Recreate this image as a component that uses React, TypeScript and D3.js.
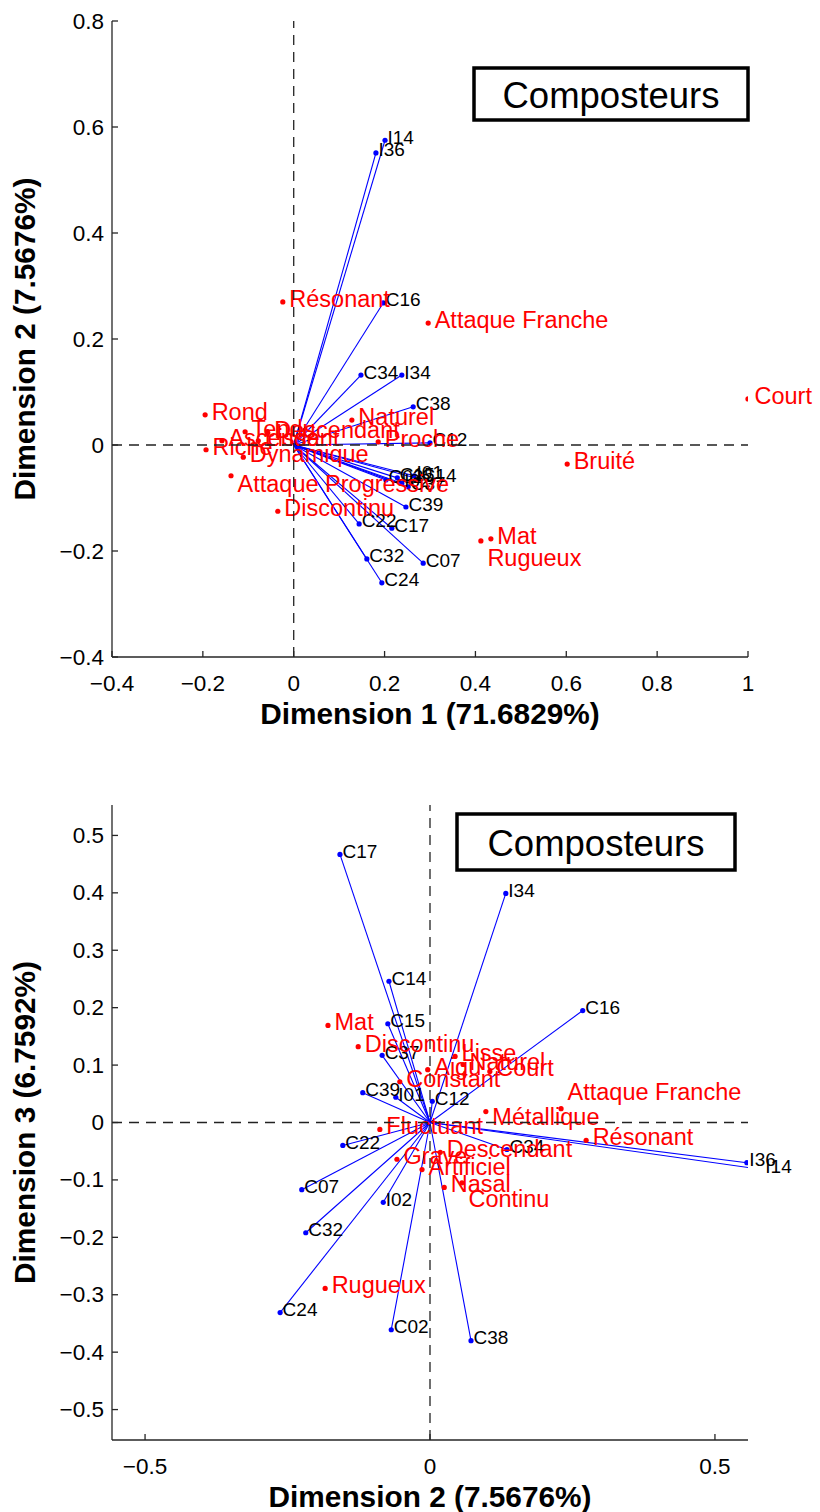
import React from "react";
import * as d3 from "d3";

// ---------- Plot 1: Dimension 1 vs Dimension 2 ----------
const p1BlueNames = ["I14","I36","C16","C34","I34","C38","C12","C02","C15","I01","C14","C37","I02","C39","C22","C17","C32","C07","C24"];
const p1BlueX = [0.201,0.181,0.197,0.148,0.238,0.263,0.300,0.203,0.228,0.265,0.276,0.252,0.238,0.247,0.144,0.216,0.161,0.285,0.194];
const p1BlueY = [0.575,0.551,0.268,0.132,0.132,0.072,0.004,-0.066,-0.062,-0.058,-0.064,-0.079,-0.072,-0.117,-0.149,-0.157,-0.215,-0.223,-0.260];

const p1RedNames = ["Résonant","Attaque Franche","Court","Naturel","Rond","Proche","Bruité","Riche","Dynamique","Attaque Progressive","Discontinu","Mat","Rugueux","Ascendant","Tendu","Descendant","Lisse"];
const p1RedX = [-0.024,0.296,1.000,0.128,-0.195,0.186,0.602,-0.193,-0.111,-0.138,-0.035,0.434,0.412,-0.158,-0.107,-0.057,-0.078];
const p1RedY = [0.270,0.230,0.087,0.047,0.057,0.006,-0.036,-0.009,-0.023,-0.058,-0.125,-0.177,-0.181,0.008,0.025,0.023,0.008];

const p1XTicks = [-0.4,-0.2,0,0.2,0.4,0.6,0.8,1];
const p1YTicks = [-0.4,-0.2,0,0.2,0.4,0.6,0.8];

// ---------- Plot 2: Dimension 2 vs Dimension 3 ----------
const p2BlueNames = ["C17","I34","C14","C16","C15","C37","C39","I01","C12","C22","C07","I02","C32","C24","C02","C38","C34","I36","I14"];
const p2BlueX = [-0.158,0.133,-0.072,0.268,-0.074,-0.084,-0.118,-0.060,0.004,-0.153,-0.225,-0.082,-0.218,-0.263,-0.068,0.072,0.135,0.556,0.584];
const p2BlueY = [0.467,0.399,0.246,0.195,0.172,0.117,0.052,0.044,0.037,-0.040,-0.117,-0.139,-0.192,-0.331,-0.361,-0.380,-0.047,-0.070,-0.082];

const p2RedNames = ["Mat","Discontinu","Lisse","Naturel","Court","Aigu","Constant","Attaque Franche","Métallique","Fluctuant","Grave","Descendant","Artificiel","Nasal","Continu","Résonant","Rugueux"];
const p2RedX = [-0.179,-0.126,0.044,0.058,0.105,-0.004,-0.053,0.230,0.098,-0.088,-0.058,0.018,-0.014,0.025,0.056,0.274,-0.184];
const p2RedY = [0.169,0.132,0.115,0.101,0.089,0.092,0.071,0.024,0.019,-0.012,-0.064,-0.052,-0.082,-0.113,-0.105,-0.031,-0.289];

const p2XTicks = [-0.5,0,0.5];
const p2YTicks = [-0.5,-0.4,-0.3,-0.2,-0.1,0,0.1,0.2,0.3,0.4,0.5];

const legendText = "Composteurs";

const FONT = "'Liberation Sans', Arial, Helvetica, sans-serif";
const fmt = d3.format("~g");

type PlotProps = {
  id: string;
  xScale: d3.ScaleLinear<number, number>;
  yScale: d3.ScaleLinear<number, number>;
  xTicks: number[];
  yTicks: number[];
  blueNames: string[]; blueX: number[]; blueY: number[];
  redNames: string[]; redX: number[]; redY: number[];
  xTitle: string; yTitle: string;
  legendBox: [number, number, number, number];
  labelDy: Record<string, number>;
};

function Plot(p: PlotProps) {
  const [x0, x1] = p.xScale.range();
  const [yb, yt] = p.yScale.range();
  const ox = p.xScale(0), oy = p.yScale(0);
  const [lx, ly, lw, lh] = p.legendBox;
  return (
    <g>
      <defs>
        <clipPath id={p.id}>
          <rect x={x0} y={yt} width={x1 - x0} height={yb - yt} />
        </clipPath>
      </defs>
      {/* blue vectors */}
      <g clipPath={`url(#${p.id})`}>
        {p.blueNames.map((n, i) => (
          <line key={n} x1={ox} y1={oy} x2={p.xScale(p.blueX[i])} y2={p.yScale(p.blueY[i])} stroke="#0000ff" strokeWidth={1.1} />
        ))}
        {p.blueNames.map((n, i) => (
          <circle key={n} cx={p.xScale(p.blueX[i])} cy={p.yScale(p.blueY[i])} r={2.6} fill="#0000ff" />
        ))}
        {p.redNames.map((n, i) => (
          <circle key={n} cx={p.xScale(p.redX[i])} cy={p.yScale(p.redY[i])} r={2.6} fill="#ff0000" />
        ))}
      </g>
      {p.blueNames.map((n, i) => (
        <text key={n} x={p.xScale(p.blueX[i]) + 2.5} y={p.yScale(p.blueY[i]) - 3} dominantBaseline="central" fontSize={19} fill="#000" fontFamily={FONT}>{n}</text>
      ))}
      {p.redNames.map((n, i) => (
        <text key={n} x={p.xScale(p.redX[i]) + 6.5} y={p.yScale(p.redY[i]) - 3 + (p.labelDy[n] || 0)} dominantBaseline="central" fontSize={23.5} fill="#ff0000" fontFamily={FONT}>{n}</text>
      ))}
      {/* dashed zero lines */}
      <line x1={x0} x2={x1} y1={oy} y2={oy} stroke="#222" strokeWidth={1.3} strokeDasharray="10,7" />
      <line x1={ox} x2={ox} y1={yb} y2={yt} stroke="#222" strokeWidth={1.3} strokeDasharray="10,7" />
      {/* axes */}
      <line x1={x0} x2={x1} y1={yb} y2={yb} stroke="#262626" strokeWidth={1.3} />
      <line x1={x0} x2={x0} y1={yb} y2={yt} stroke="#262626" strokeWidth={1.3} />
      {p.xTicks.map((t) => (
        <g key={t}>
          <line x1={p.xScale(t)} x2={p.xScale(t)} y1={yb} y2={yb - 6} stroke="#262626" strokeWidth={1.3} />
          <text x={p.xScale(t)} y={yb + 26} textAnchor="middle" dominantBaseline="central" fontSize={22.5} fontFamily={FONT} fill="#000">{fmt(t)}</text>
        </g>
      ))}
      {p.yTicks.map((t) => (
        <g key={t}>
          <line x1={x0} x2={x0 + 6} y1={p.yScale(t)} y2={p.yScale(t)} stroke="#262626" strokeWidth={1.3} />
          <text x={x0 - 8} y={p.yScale(t)} textAnchor="end" dominantBaseline="central" fontSize={22.5} fontFamily={FONT} fill="#000">{fmt(t)}</text>
        </g>
      ))}
      <text x={(x0 + x1) / 2} y={yb + 56} textAnchor="middle" dominantBaseline="central" fontSize={29.8} fontWeight="bold" fontFamily={FONT}>{p.xTitle}</text>
      <text transform={`translate(24,${(yb + yt) / 2}) rotate(-90)`} textAnchor="middle" dominantBaseline="central" fontSize={29.8} fontWeight="bold" fontFamily={FONT}>{p.yTitle}</text>
      {/* legend box */}
      <rect x={lx} y={ly} width={lw} height={lh} fill="#fff" stroke="#000" strokeWidth={3.5} />
      <text x={lx + lw / 2} y={ly + lh / 2 + 1} textAnchor="middle" dominantBaseline="central" fontSize={36.5} fontFamily={FONT}>{legendText}</text>
    </g>
  );
}

export default function App() {
  const x1s = d3.scaleLinear().domain([-0.4, 1]).range([112, 748]);
  const y1s = d3.scaleLinear().domain([-0.4, 0.8]).range([657, 21]);
  const x2s = d3.scaleLinear().domain([-0.558, 0.558]).range([112, 748]);
  const y2s = d3.scaleLinear().domain([-0.553, 0.553]).range([1440, 805]);
  return (
    <div style={{ position: "absolute", left: 0, top: 0 }}>
      <svg width={820} height={1512} style={{ display: "block", background: "#fff" }}>
        <Plot id="clip1" xScale={x1s} yScale={y1s} xTicks={p1XTicks} yTicks={p1YTicks}
          blueNames={p1BlueNames} blueX={p1BlueX} blueY={p1BlueY}
          redNames={p1RedNames} redX={p1RedX} redY={p1RedY}
          xTitle="Dimension 1 (71.6829%)" yTitle="Dimension 2 (7.5676%)"
          legendBox={[474, 68, 274, 52]}
          labelDy={{ "Rugueux": 20, "Attaque Progressive": 11 }} />
        <Plot id="clip2" xScale={x2s} yScale={y2s} xTicks={p2XTicks} yTicks={p2YTicks}
          blueNames={p2BlueNames} blueX={p2BlueX} blueY={p2BlueY}
          redNames={p2RedNames} redX={p2RedX} redY={p2RedY}
          xTitle="Dimension 2 (7.5676%)" yTitle="Dimension 3 (6.7592%)"
          legendBox={[457, 814, 278, 56]}
          labelDy={{ "Continu": 19, "Attaque Franche": -14, "Métallique": 8 }} />
      </svg>
    </div>
  );
}
